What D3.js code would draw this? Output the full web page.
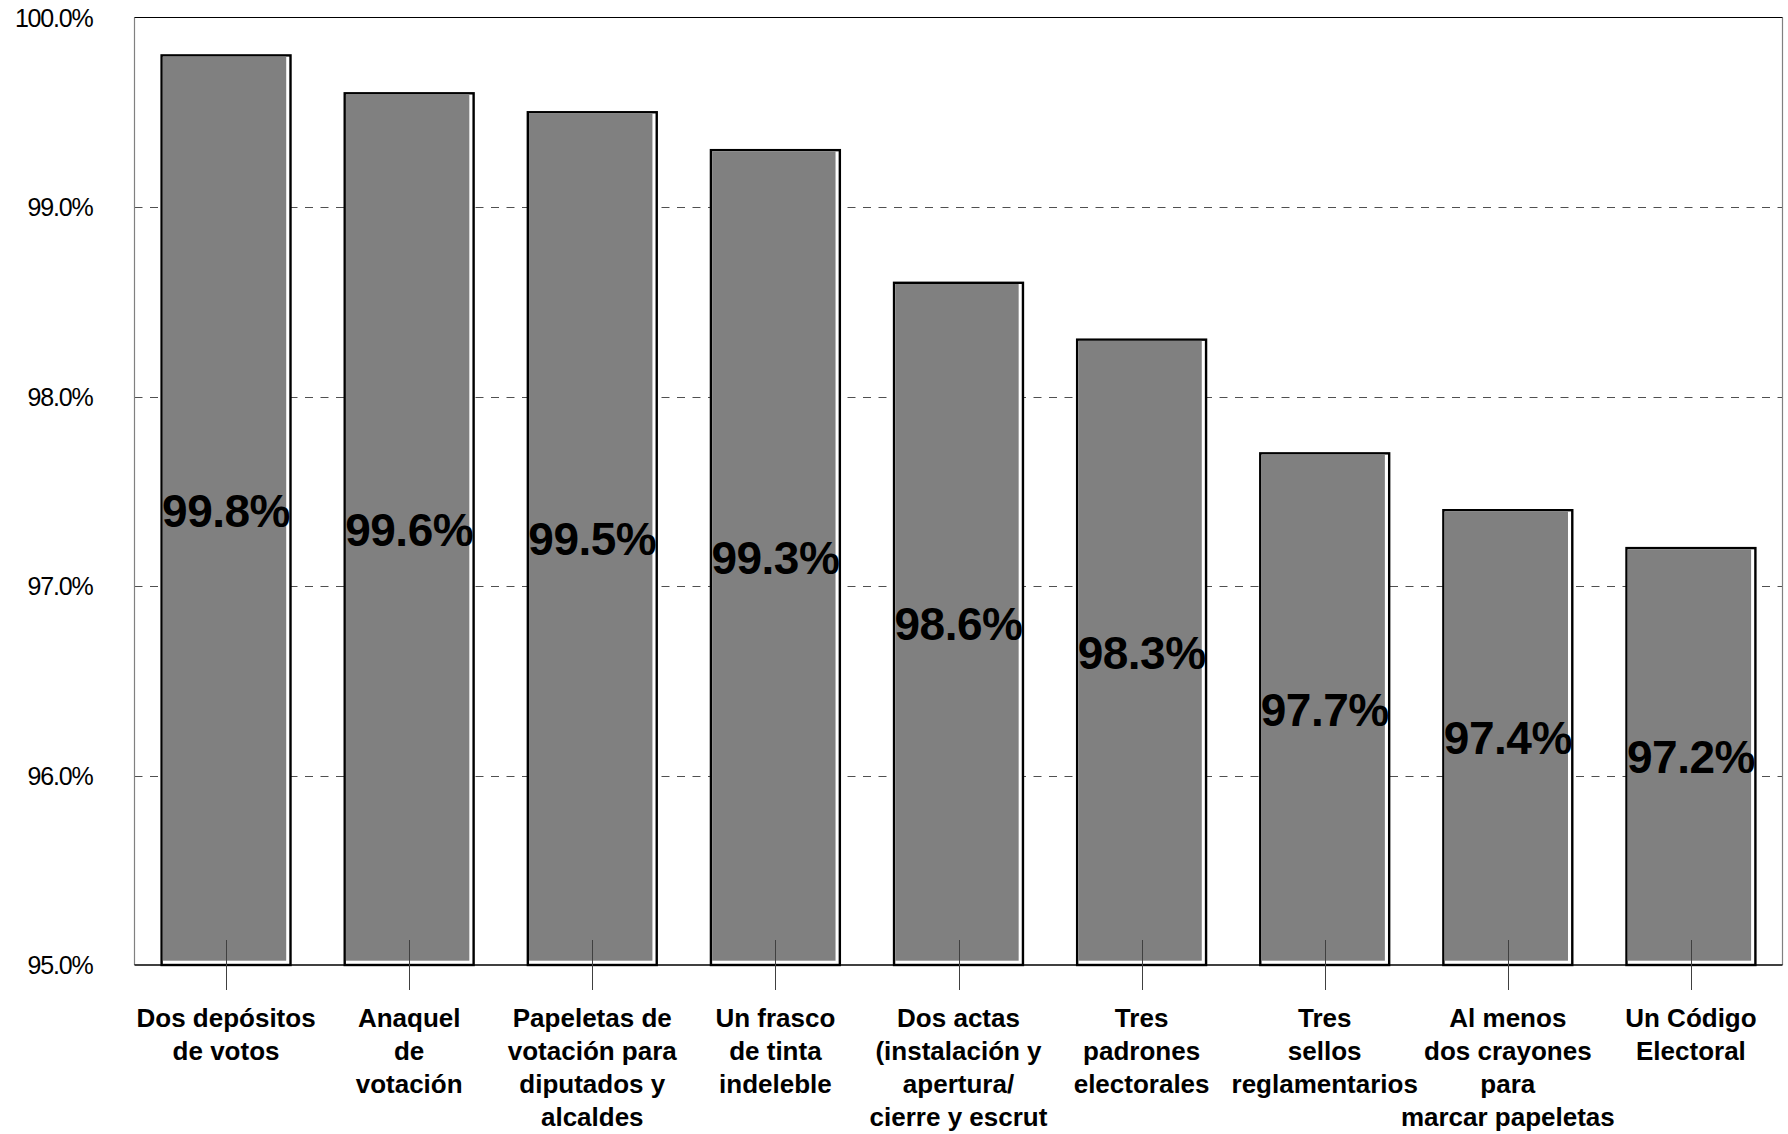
<!DOCTYPE html>
<html>
<head>
<meta charset="utf-8">
<script src="https://cdn.jsdelivr.net/npm/d3@7"></script>
<style>
  html, body { margin: 0; padding: 0; background: #fff; }
  svg { display: block; }
</style>
</head>
<body>
<svg id="chart" width="1788" height="1134"></svg>
<script>
const categories = [
  ["Dos depósitos", "de votos"],
  ["Anaquel", "de", "votación"],
  ["Papeletas de", "votación para", "diputados y", "alcaldes"],
  ["Un frasco", "de tinta", "indeleble"],
  ["Dos actas", "(instalación y", "apertura/", "cierre y escrut"],
  ["Tres", "padrones", "electorales"],
  ["Tres", "sellos", "reglamentarios"],
  ["Al menos", "dos crayones", "para", "marcar papeletas"],
  ["Un Código", "Electoral"]
];
const values = [99.8, 99.6, 99.5, 99.3, 98.6, 98.3, 97.7, 97.4, 97.2];
const yTicks = [95, 96, 97, 98, 99, 100];

const svg = d3.select("#chart");
const margin = { left: 134.5, right: 1782.5, top: 17.5, bottom: 965 };
const font = "'Liberation Sans', Arial, sans-serif";

const x = d3.scaleBand()
  .domain(d3.range(values.length))
  .range([margin.left, margin.right])
  .paddingInner(0.296)
  .paddingOuter(0.148);

const y = d3.scaleLinear().domain([95, 100]).range([margin.bottom, margin.top]);

// Gridlines
svg.append("g")
  .selectAll("line")
  .data(yTicks.filter(t => t > 95 && t < 100))
  .join("line")
  .attr("x1", margin.left).attr("x2", margin.right)
  .attr("y1", d => Math.round(y(d)) + 0.5).attr("y2", d => Math.round(y(d)) + 0.5)
  .attr("stroke", "#505050")
  .attr("stroke-width", 1)
  .attr("stroke-dasharray", "8,7.5");

// Plot border (left/right gray, top black)
svg.append("line").attr("x1", margin.left).attr("x2", margin.left)
  .attr("y1", margin.top).attr("y2", margin.bottom).attr("stroke", "#808080").attr("stroke-width", 1.2);
svg.append("line").attr("x1", margin.right).attr("x2", margin.right)
  .attr("y1", margin.top).attr("y2", margin.bottom).attr("stroke", "#808080").attr("stroke-width", 1.2);
svg.append("line").attr("x1", margin.left).attr("x2", margin.right)
  .attr("y1", margin.top).attr("y2", margin.top).attr("stroke", "#000").attr("stroke-width", 1);

// Bars
const bars = svg.append("g").selectAll("g").data(values).join("g");
bars.append("rect")
  .attr("x", (d, i) => x(i))
  .attr("y", d => y(d))
  .attr("width", x.bandwidth())
  .attr("height", d => y(95) - y(d))
  .attr("fill", "#ffffff")
  .attr("stroke", "#000")
  .attr("stroke-width", 2.4);
bars.append("rect")
  .attr("x", (d, i) => x(i) + 1.2)
  .attr("y", d => y(d) + 1.2)
  .attr("width", x.bandwidth() - 5.5)
  .attr("height", d => y(95) - y(d) - 5.5)
  .attr("fill", "#808080");

// Baseline
svg.append("line").attr("x1", margin.left).attr("x2", margin.right)
  .attr("y1", margin.bottom).attr("y2", margin.bottom).attr("stroke", "#000").attr("stroke-width", 1.5);

// X tick marks (crossing the baseline)
svg.append("g").selectAll("line").data(values).join("line")
  .attr("x1", (d, i) => Math.round(x(i) + x.bandwidth() / 2) + 0.5)
  .attr("x2", (d, i) => Math.round(x(i) + x.bandwidth() / 2) + 0.5)
  .attr("y1", margin.bottom - 25).attr("y2", margin.bottom + 25)
  .attr("stroke", "#404040").attr("stroke-width", 1);

// Y axis labels
svg.append("g").selectAll("text").data(yTicks).join("text")
  .attr("x", 92.5)
  .attr("y", d => y(d))
  .attr("dy", "0.36em")
  .attr("text-anchor", "end")
  .attr("font-family", font)
  .attr("font-size", 25)
  .attr("letter-spacing", -1.2)
  .attr("fill", "#000")
  .text(d => d.toFixed(1) + "%");

// Value labels centered in bars
svg.append("g").selectAll("text").data(values).join("text")
  .attr("x", (d, i) => x(i) + x.bandwidth() / 2)
  .attr("y", d => (y(d) + y(95)) / 2)
  .attr("dy", "0.36em")
  .attr("text-anchor", "middle")
  .attr("font-family", font)
  .attr("font-weight", "bold")
  .attr("font-size", 46)
  .attr("letter-spacing", -0.5)
  .attr("fill", "#000")
  .text(d => d.toFixed(1) + "%");

// Category labels
const catG = svg.append("g").selectAll("text").data(categories).join("text")
  .attr("text-anchor", "middle")
  .attr("font-family", font)
  .attr("font-weight", "bold")
  .attr("font-size", 26)
  .attr("fill", "#000");
catG.each(function(lines, i) {
  const cx = x(i) + x.bandwidth() / 2;
  d3.select(this).selectAll("tspan").data(lines).join("tspan")
    .attr("x", cx)
    .attr("y", (d, j) => 1027 + j * 33)
    .text(d => d);
});
</script>
</body>
</html>
